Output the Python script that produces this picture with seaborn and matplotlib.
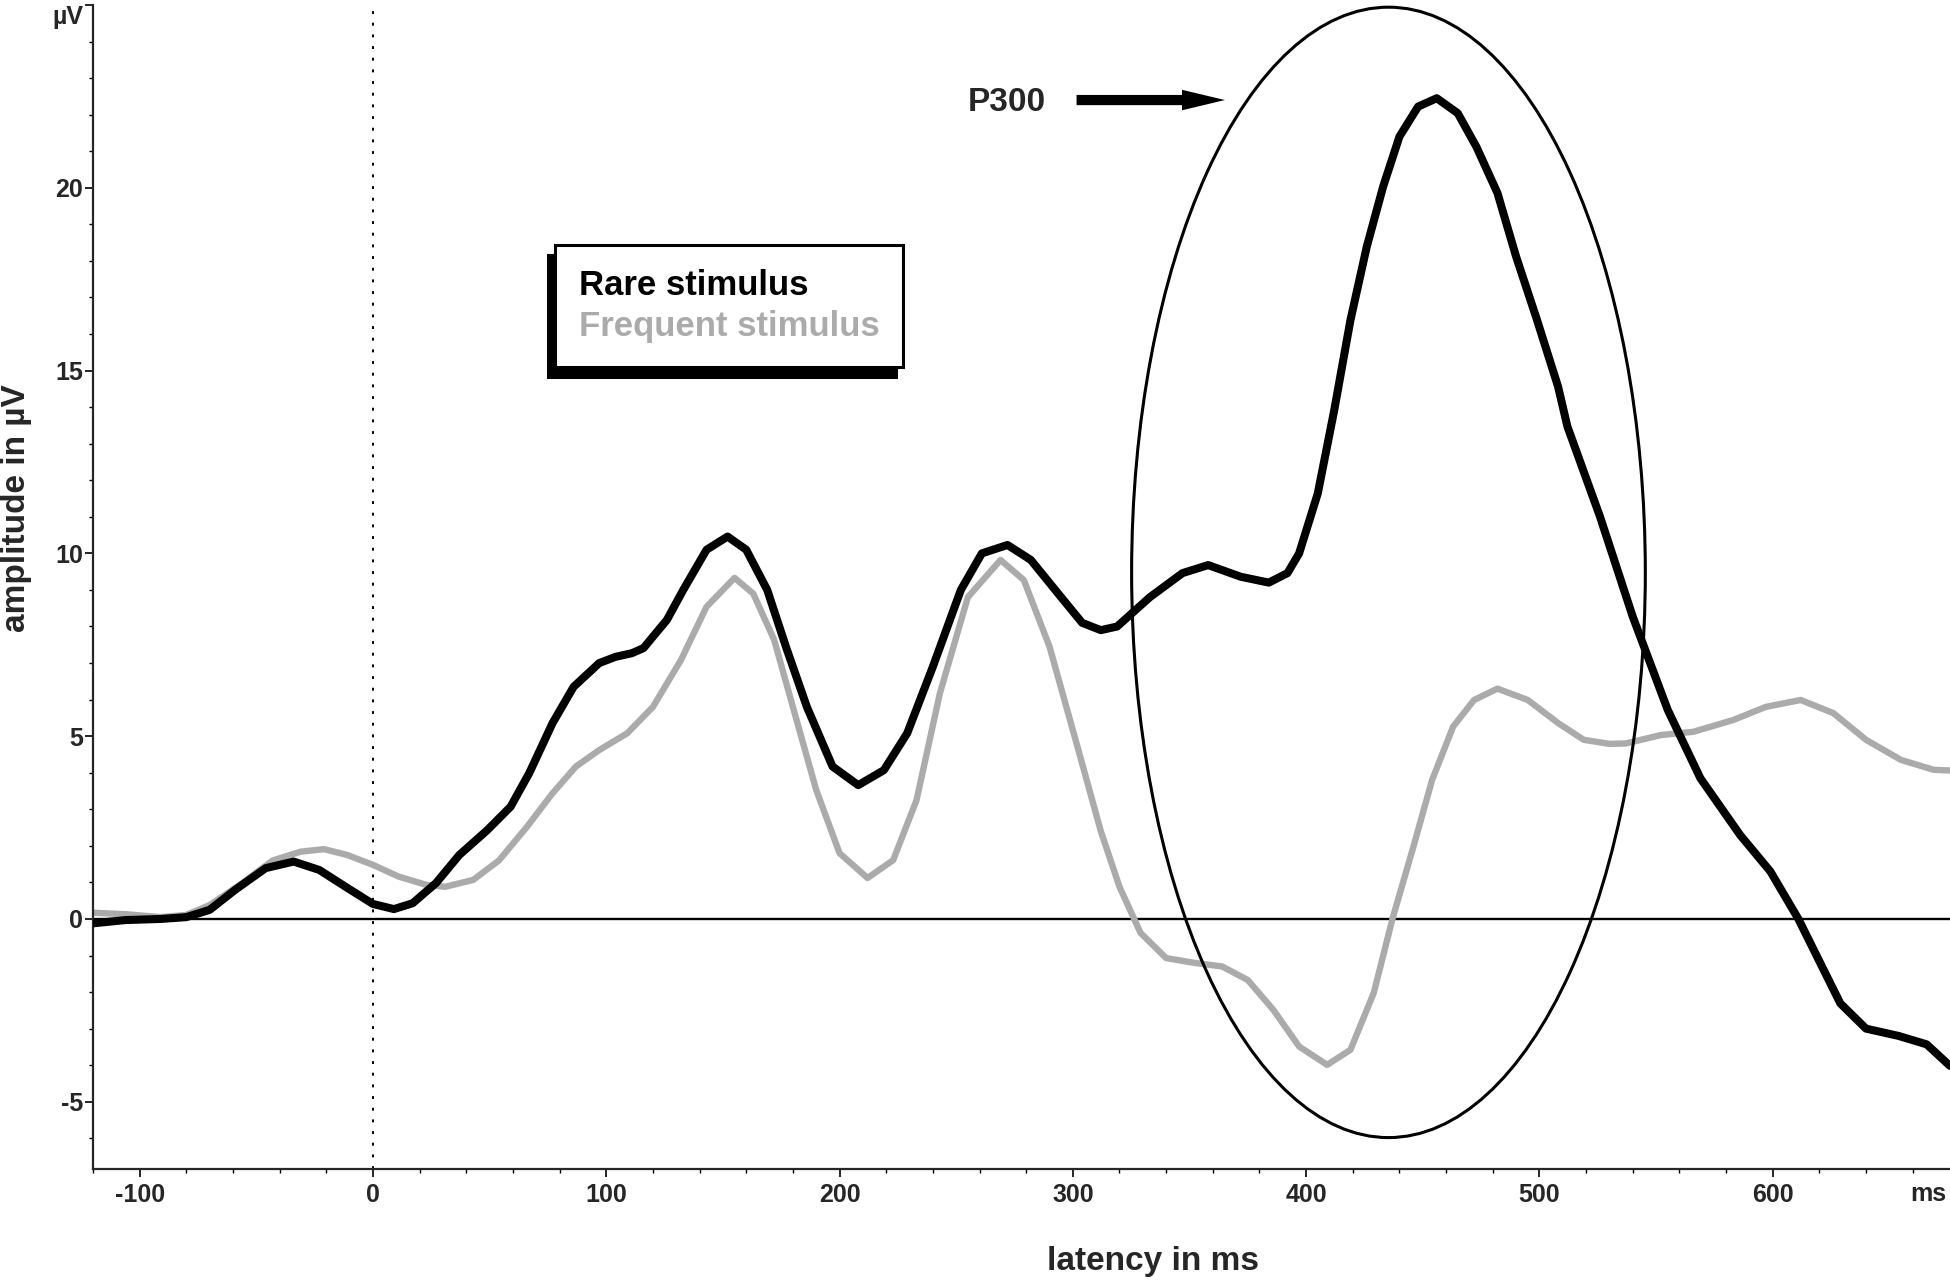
import numpy as np
import pandas as pd
import seaborn as sns
import matplotlib.pyplot as plt
from matplotlib.patches import Ellipse
from matplotlib.ticker import MultipleLocator

# ERP traces (latency in ms, amplitude in µV)
rare_ms = [-120, -106, -91, -80, -70, -59, -46, -34, -23, -11, 0, 9, 17, 27, 37, 49, 59, 67, 77, 86,
           97, 104, 111, 116, 120, 126, 133, 143, 152, 160, 169, 177, 186, 197, 208, 219, 229, 240,
           252, 261, 272, 282, 295, 304, 312, 319, 333, 347, 358, 372, 384, 392, 397, 405, 412, 419,
           426, 433, 440, 448, 456, 465, 473, 482, 490, 499, 508, 512, 526, 540, 555, 569, 586, 599,
           611, 629, 640, 654, 666, 676]
rare_uv = [-0.12, -0.03, 0.0, 0.05, 0.25, 0.8, 1.39, 1.57, 1.34, 0.85, 0.41, 0.27, 0.43, 0.98, 1.75,
           2.43, 3.07, 3.99, 5.36, 6.35, 7.0, 7.17, 7.27, 7.41, 7.72, 8.18, 9.0, 10.1, 10.46, 10.1,
           9.0, 7.45, 5.8, 4.17, 3.66, 4.07, 5.08, 6.9, 9.0, 10.0, 10.23, 9.82, 8.8, 8.1, 7.9, 8.0,
           8.8, 9.46, 9.68, 9.36, 9.2, 9.46, 10.0, 11.64, 13.9, 16.38, 18.39, 20.03, 21.4, 22.22,
           22.45, 22.04, 21.12, 19.86, 18.12, 16.38, 14.56, 13.47, 11.0, 8.27, 5.72, 3.85, 2.3, 1.3,
           0.0, -2.31, -3.0, -3.2, -3.43, -4.02]

freq_ms = [-120, -106, -91, -80, -70, -56, -43, -31, -21, -11, 0, 11, 23, 31, 43, 54, 66, 77, 87, 97,
           109, 120, 132, 143, 155, 163, 172, 180, 190, 200, 212, 223, 233, 243, 255, 269, 279, 290,
           302, 312, 320, 329, 340, 352, 364, 375, 386, 397, 409, 419, 429, 437, 446, 454, 463, 472,
           482, 495, 508, 519, 530, 537, 552, 566, 583, 597, 612, 626, 640, 655, 669, 676]
freq_uv = [0.17, 0.13, 0.05, 0.11, 0.38, 0.98, 1.6, 1.84, 1.91, 1.75, 1.48, 1.16, 0.93, 0.88, 1.07,
           1.6, 2.52, 3.44, 4.17, 4.62, 5.08, 5.8, 7.08, 8.54, 9.33, 8.9, 7.63, 5.8, 3.53, 1.8, 1.12,
           1.61, 3.25, 6.17, 8.8, 9.82, 9.27, 7.45, 4.71, 2.4, 0.88, -0.38, -1.07, -1.2, -1.3, -1.67,
           -2.49, -3.49, -3.99, -3.58, -2.02, 0.0, 1.98, 3.8, 5.26, 5.99, 6.3, 5.99, 5.36, 4.9, 4.79,
           4.8, 5.03, 5.12, 5.44, 5.8, 5.99, 5.63, 4.9, 4.35, 4.08, 4.06]

series_names = ['Rare stimulus', 'Frequent stimulus']
series_colors = ['#000000', '#ababab']

x_ticks = [-100, 0, 100, 200, 300, 400, 500, 600]
x_tick_labels = ['-100', '0', '100', '200', '300', '400', '500', '600']
y_ticks = [-5, 0, 5, 10, 15, 20, 25]
y_tick_labels = ['-5', '0', '5', '10', '15', '20', 'µV']

sns.set_style('ticks')
plt.rcParams['font.family'] = ['Liberation Sans', 'DejaVu Sans']
plt.rcParams['font.weight'] = 'bold'
plt.rcParams['axes.unicode_minus'] = False

rare = pd.DataFrame({'latency': rare_ms, 'amplitude': rare_uv})
freq = pd.DataFrame({'latency': freq_ms, 'amplitude': freq_uv})

fig = plt.figure(figsize=(19.5, 12.8), dpi=100)
ax = fig.add_axes([0.0477, 0.0867, 0.9523, 0.9094])

# reference lines
ax.axhline(0, color='black', lw=1.7, zorder=1)
ax.axvline(0, color='black', lw=1.4, linestyle=(0, (1.5, 4.5)), zorder=1)

sns.lineplot(data=freq, x='latency', y='amplitude', color=series_colors[1], lw=4.6,
             label=series_names[1], ax=ax, zorder=2)
sns.lineplot(data=rare, x='latency', y='amplitude', color=series_colors[0], lw=5.8,
             label=series_names[0], ax=ax, zorder=3)
for ln in ax.lines:
    ln.set_solid_joinstyle('round')
    ln.set_solid_capstyle('round')

ax.set_xlim(-120, 676)
ax.set_ylim(-6.84, 25.0)

# P300 annotation
ax.add_patch(Ellipse((435.3, 9.48), width=220.2, height=30.92, fill=False,
                     ec='black', lw=2.2, zorder=4, clip_on=False))
ax.arrow(301.6, 22.4, 63.6, 0, width=0.28, head_width=0.56, head_length=18.4,
         length_includes_head=True, fc='black', ec='black', lw=0, zorder=4)
ax.text(255, 22.32, 'P300', fontsize=24, fontweight='bold', ha='left', va='center')

# legend with coloured text and a black drop shadow
handles, labels = ax.get_legend_handles_labels()
order = [labels.index(n) for n in series_names]
leg = ax.legend([handles[i] for i in order], [labels[i] for i in order],
                loc='upper left', bbox_to_anchor=(0.2488, 0.7938), borderaxespad=0,
                handlelength=0, handletextpad=0, labelcolor='linecolor',
                prop={'weight': 'bold', 'size': 25},
                frameon=True, fancybox=False, framealpha=1, edgecolor='black',
                borderpad=0.68, labelspacing=0.25,
                shadow={'ox': -5, 'oy': -7.5, 'facecolor': 'black', 'edgecolor': 'black', 'alpha': 1})
leg.get_frame().set_linewidth(2.2)
for h in leg.legend_handles:
    h.set_visible(False)

# axes styling
sns.despine(ax=ax, top=True, right=True)
ax.spines['left'].set_linewidth(1.6)
ax.spines['bottom'].set_linewidth(1.6)

ax.set_xticks(x_ticks)
ax.set_xticklabels(x_tick_labels)
ax.set_yticks(y_ticks)
ax.set_yticklabels(y_tick_labels)
ax.xaxis.set_minor_locator(MultipleLocator(20))
ax.yaxis.set_minor_locator(MultipleLocator(1))
ax.tick_params(which='major', direction='out', length=5.8, width=1.2, labelsize=18, color='black')
ax.tick_params(which='minor', direction='out', length=3, width=1.0, color='black')
ax.tick_params(axis='x', which='major', pad=4)
ax.tick_params(axis='y', which='major', pad=1.5)
for lbl in ax.get_xticklabels() + ax.get_yticklabels():
    lbl.set_fontweight('bold')
ax.get_yticklabels()[-1].set_va('top')

ax.text(666.6, -0.0215, 'ms', transform=ax.get_xaxis_transform(), fontsize=18,
        fontweight='bold', ha='center', va='center')

ax.set_xlabel('latency in ms', fontsize=24, fontweight='bold')
ax.set_ylabel('amplitude in µV', fontsize=24, fontweight='bold')
ax.xaxis.set_label_coords(0.5708, -0.066)
ax.yaxis.set_label_coords(-0.033, 0.568)

fig.savefig('out.png', dpi=100, facecolor='white')
